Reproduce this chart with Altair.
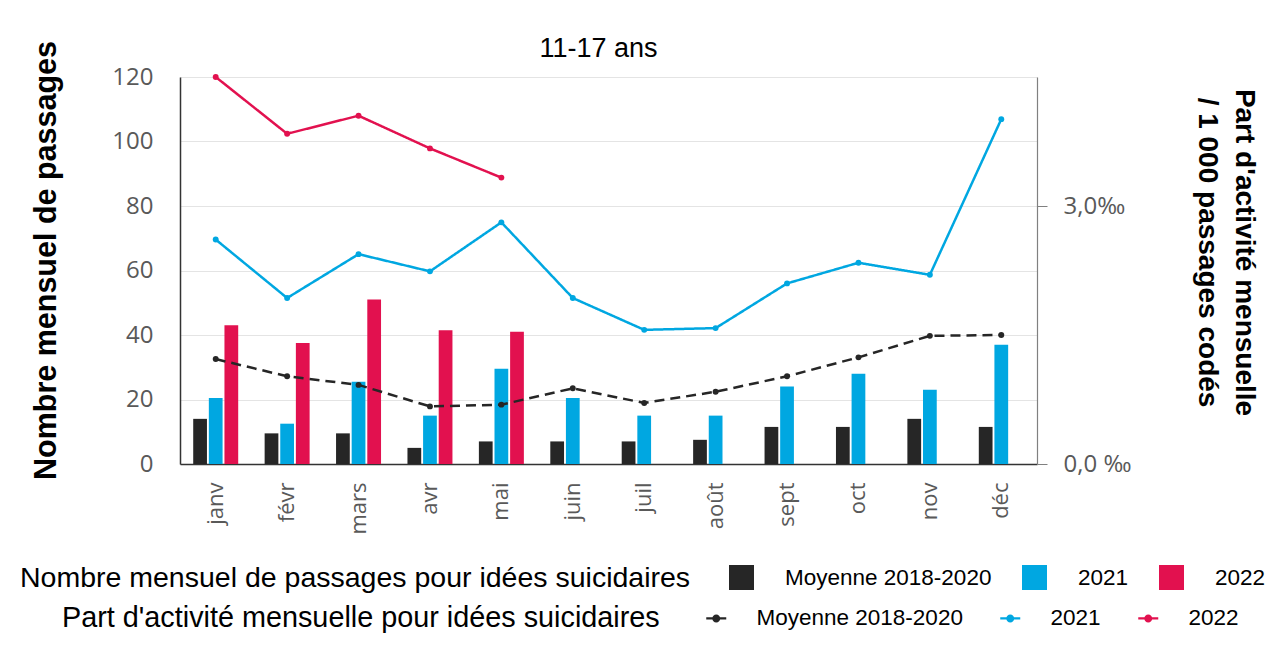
import altair as alt
import pandas as pd

months = ["janv", "févr", "mars", "avr", "mai", "juin", "juil", "août", "sept", "oct", "nov", "déc"]
series = ["Moyenne 2018-2020", "2021", "2022"]
colors = ["#262626", "#00a7e1", "#e2114f"]

passages_moy = [14, 9.5, 9.5, 5, 7, 7, 7, 7.5, 11.5, 11.5, 14, 11.5]
passages_2021 = [20.5, 12.5, 25.5, 15, 29.5, 20.5, 15, 15, 24, 28, 23, 37]
passages_2022 = [43, 37.5, 51, 41.5, 41]

part_moy = [1.22, 1.02, 0.92, 0.67, 0.69, 0.88, 0.71, 0.84, 1.02, 1.24, 1.49, 1.50]
part_2021 = [2.61, 1.93, 2.44, 2.24, 2.81, 1.93, 1.56, 1.58, 2.10, 2.34, 2.20, 4.01]
part_2022 = [4.50, 3.84, 4.05, 3.67, 3.33]

# the share series get their own keys so that the two legends stay separate
part_keys = ["part " + s for s in series]

bar_rows = []
for s, vals in zip(series, [passages_moy, passages_2021, passages_2022]):
    for m, v in zip(months, vals):
        bar_rows.append({"mois": m, "serie": s, "passages": v})
bars_df = pd.DataFrame(bar_rows)

line_rows = []
for s, vals in zip(part_keys, [part_moy, part_2021, part_2022]):
    for m, v in zip(months, vals):
        line_rows.append({"mois": m, "serie_part": s, "part": v})
lines_df = pd.DataFrame(line_rows)

x_enc = alt.X("mois:N", sort=months, title=None,
              scale=alt.Scale(domain=months, paddingInner=0.37, paddingOuter=0.185),
              axis=alt.Axis(labelAngle=270, labelAlign="right", labelBaseline="middle",
                            labelPadding=18, labelFont="Open Sans", labelFontSize=22,
                            labelColor="#595959", ticks=False, tickSize=0,
                            domainColor="#333333", domainWidth=1.5, grid=False))

bars = alt.Chart(bars_df).mark_bar().encode(
    x=x_enc,
    xOffset=alt.XOffset("serie:N", sort=series,
                        scale=alt.Scale(domain=series, paddingInner=0.12, paddingOuter=0)),
    y=alt.Y("passages:Q", title="Nombre mensuel de passages",
            scale=alt.Scale(domain=[0, 120], nice=False),
            axis=alt.Axis(values=[0, 20, 40, 60, 80, 100, 120], grid=True, gridColor="#e4e4e4",
                          gridWidth=1, ticks=False, tickSize=0, labelPadding=27,
                          labelFont="Open Sans", labelFontSize=24, labelColor="#595959",
                          domainColor="#333333", domainWidth=1.5,
                          titleFont="Liberation Sans", titleFontSize=30.5, titleFontWeight="bold",
                          titleColor="black", titleX=-134, titleY=183, titleBaseline="middle",
                          titleAngle=270)),
    color=alt.Color("serie:N", sort=series,
                    scale=alt.Scale(domain=series, range=colors),
                    legend=alt.Legend(title="Nombre mensuel de passages pour idées suicidaires",
                                      orient="none", legendX=-160, legendY=488,
                                      direction="horizontal", columns=3, titleOrient="left",
                                      titleFont="Liberation Sans", titleFontSize=28.5,
                                      titleFontWeight="normal", titleColor="black",
                                      titlePadding=38, titleLimit=1000, titleBaseline="middle",
                                      labelFont="Liberation Sans", labelFontSize=22.5,
                                      labelColor="black", labelLimit=400, labelOffset=31,
                                      columnPadding=30, symbolType="square", symbolSize=625,
                                      symbolStrokeWidth=0, padding=0)),
)

y_right = alt.Y("part:Q", title=["Part d'activité mensuelle", "/ 1 000 passages codés"],
                scale=alt.Scale(domain=[0, 4.5], nice=False),
                axis=alt.Axis(orient="right", values=[0, 3], grid=False, ticks=True, tickSize=10,
                              tickColor="#808080", domainColor="#808080", domainWidth=1.2,
                              labelExpr="datum.value == 0 ? '0,0 ‰' : '3,0‰'",
                              labelPadding=16, labelFont="Open Sans", labelFontSize=24,
                              labelColor="#595959", labelBaseline="middle",
                              titleFont="Liberation Sans", titleFontSize=28, titleFontWeight="bold",
                              titleColor="black", titleAngle=90, titleX=206, titleY=175,
                              titleBaseline="middle", titleAlign="center", titleLineHeight=37))

lines = alt.Chart(lines_df).mark_line(strokeWidth=2.5).encode(
    x=alt.X("mois:N", sort=months),
    y=y_right,
    stroke=alt.Stroke("serie_part:N", sort=part_keys,
                      scale=alt.Scale(domain=part_keys, range=colors), legend=None),
    strokeDash=alt.StrokeDash("serie_part:N", sort=part_keys,
                              scale=alt.Scale(domain=part_keys, range=[[10, 6], [1, 0], [1, 0]]),
                              legend=None),
)

line_symbol = "M-1,-0.12L1,-0.12L1,0.12L-1,0.12Z M0.4,0A0.4,0.4,0,1,1,-0.4,0A0.4,0.4,0,1,1,0.4,0Z"

points = alt.Chart(lines_df).mark_point(filled=True, size=35, opacity=1).encode(
    x=alt.X("mois:N", sort=months),
    y=alt.Y("part:Q", scale=alt.Scale(domain=[0, 4.5], nice=False), axis=None),
    color=alt.Color("serie_part:N", sort=part_keys,
                    scale=alt.Scale(domain=part_keys, range=colors),
                    legend=alt.Legend(title="Part d'activité mensuelle pour idées suicidaires",
                                      orient="none", legendX=-118, legendY=530,
                                      direction="horizontal", columns=3, titleOrient="left",
                                      titleFont="Liberation Sans", titleFontSize=28.8,
                                      titleFontWeight="normal", titleColor="black",
                                      titlePadding=45, titleLimit=1000, titleBaseline="middle",
                                      labelExpr="replace(datum.label, 'part ', '')",
                                      labelFont="Liberation Sans", labelFontSize=22.5,
                                      labelColor="black", labelLimit=400, labelOffset=29,
                                      columnPadding=36, symbolType=line_symbol,
                                      symbolSize=400, symbolStrokeWidth=0, padding=0)),
)

chart = alt.layer(bars, lines, points).resolve_scale(
    y="independent", color="independent"
).properties(
    width=857,
    height=387,
    title=alt.TitleParams("11-17 ans", font="Liberation Sans", fontSize=27,
                          fontWeight="normal", color="black", offset=-50, dx=-10,
                          frame="group", baseline="bottom"),
    autosize=alt.AutoSizeParams(type="none"),
    padding={"left": 172, "top": 69, "right": 228, "bottom": 170},
    background="white",
).configure_view(strokeWidth=0)

chart.save("out.html", embed_options={"renderer": "svg", "actions": False})
